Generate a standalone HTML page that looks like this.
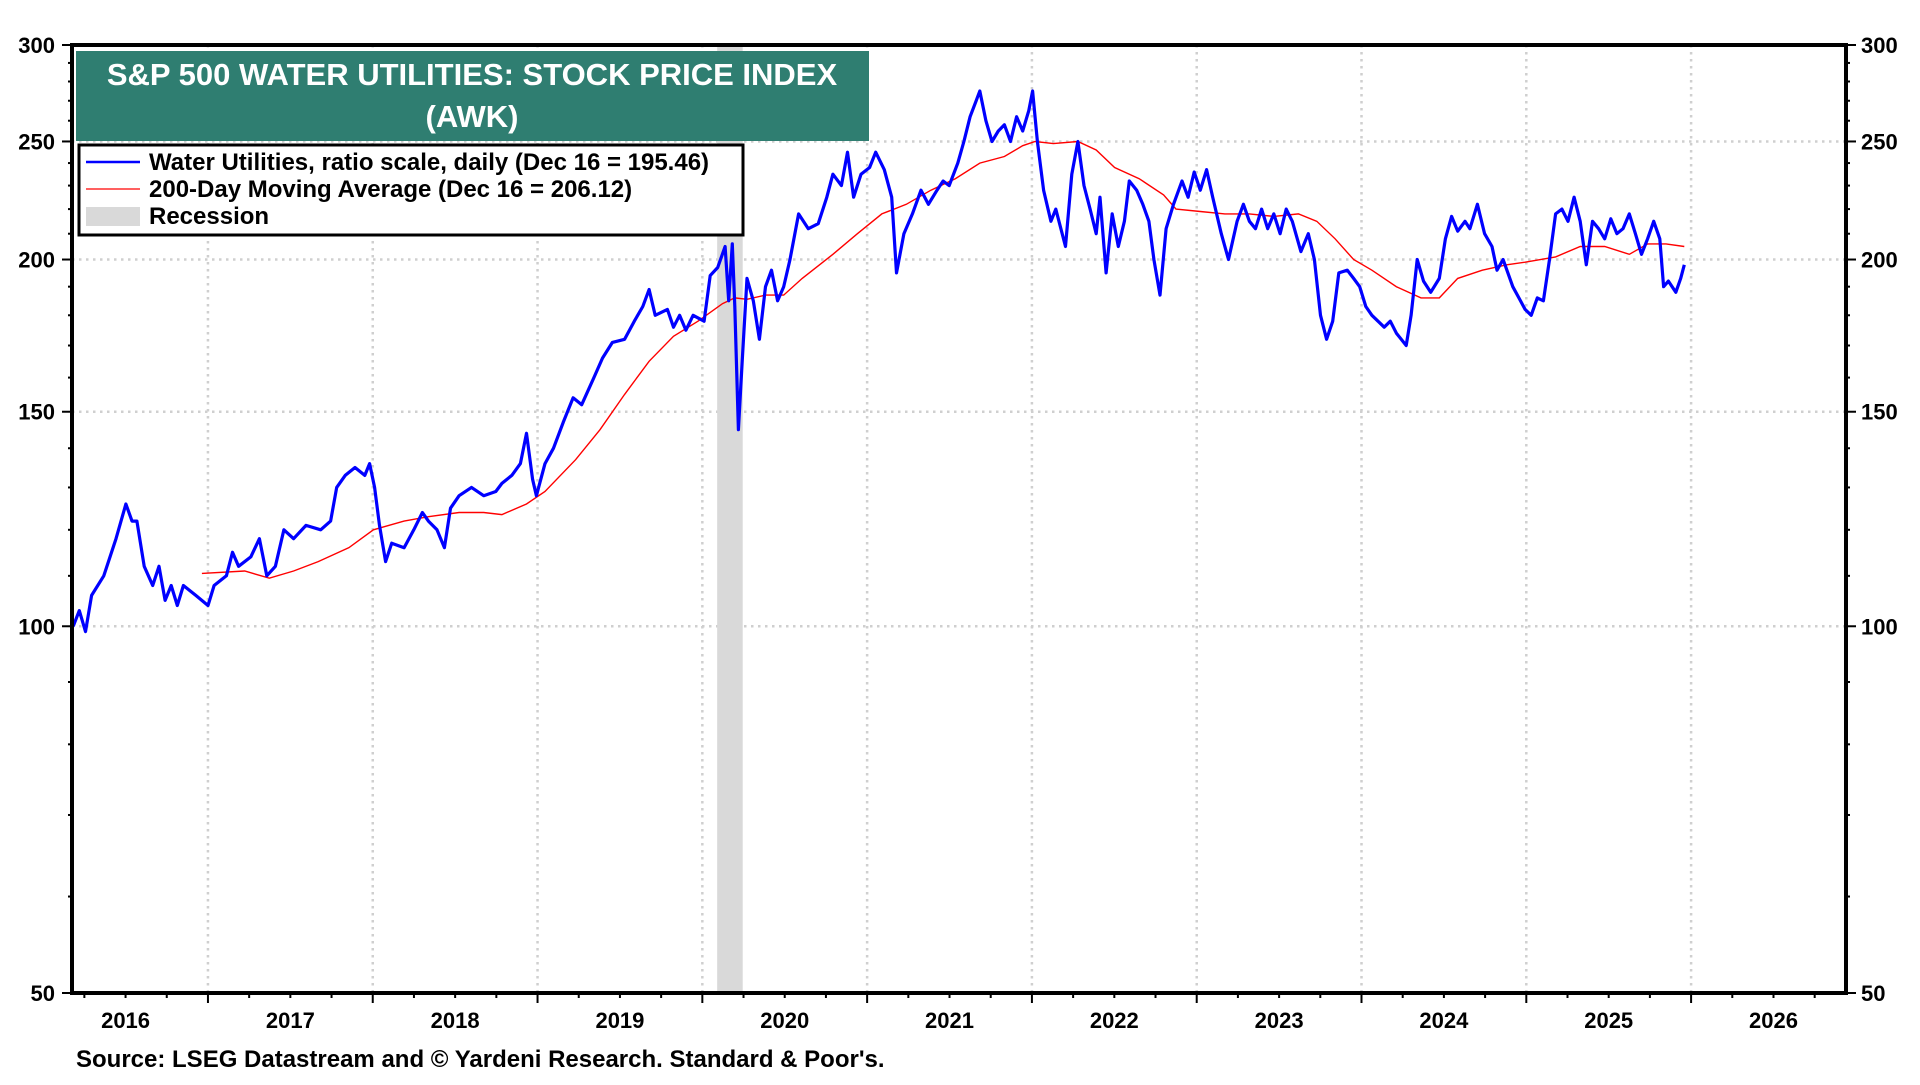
<!DOCTYPE html>
<html><head><meta charset="utf-8"><style>
body{margin:0;background:#fff;}
svg text{font-family:"Liberation Sans",Arial,sans-serif;font-weight:bold;}
</style></head><body>
<svg id="chart" width="1920" height="1080" xmlns="http://www.w3.org/2000/svg">
<g id="grid"></g>
<g id="recession"></g>
<g id="series"></g>
<g id="axes"></g>
<rect x="76" y="51" width="793" height="90" fill="#2f7e71"/>
<text x="472" y="85" font-size="31" fill="#fff" text-anchor="middle">S&amp;P 500 WATER UTILITIES: STOCK PRICE INDEX</text>
<text x="472" y="127" font-size="31" fill="#fff" text-anchor="middle">(AWK)</text>
<g>
<rect x="79" y="145" width="664" height="90" fill="#fff" stroke="#000" stroke-width="3"/>
<line x1="86" y1="162" x2="140" y2="162" stroke="#0000ff" stroke-width="2.5"/>
<text x="149" y="170" font-size="24">Water Utilities, ratio scale, daily (Dec 16 = 195.46)</text>
<line x1="86" y1="189" x2="140" y2="189" stroke="#ff0000" stroke-width="1.3"/>
<text x="149" y="197" font-size="24">200-Day Moving Average (Dec 16 = 206.12)</text>
<rect x="86" y="207" width="54" height="19" fill="#d9d9d9"/>
<text x="149" y="224" font-size="24">Recession</text>
</g>
<text x="76" y="1067" font-size="24">Source: LSEG Datastream and © Yardeni Research. Standard &amp; Poor's.</text>
</svg>
<script>
const blueT=[2016.182,2016.219,2016.257,2016.294,2016.368,2016.442,2016.502,2016.539,2016.569,2016.613,2016.665,2016.703,2016.740,2016.777,2016.814,2016.851,2016.926,2017.000,2017.037,2017.112,2017.149,2017.186,2017.260,2017.312,2017.357,2017.409,2017.461,2017.520,2017.595,2017.684,2017.744,2017.781,2017.833,2017.892,2017.952,2017.981,2018.011,2018.041,2018.078,2018.115,2018.190,2018.249,2018.301,2018.338,2018.390,2018.435,2018.472,2018.524,2018.599,2018.673,2018.747,2018.784,2018.844,2018.896,2018.933,2018.970,2018.993,2019.045,2019.097,2019.156,2019.216,2019.268,2019.342,2019.394,2019.454,2019.528,2019.587,2019.639,2019.677,2019.714,2019.788,2019.825,2019.862,2019.900,2019.944,2020.011,2020.048,2020.093,2020.138,2020.160,2020.182,2020.197,2020.219,2020.242,2020.271,2020.309,2020.346,2020.383,2020.420,2020.457,2020.494,2020.532,2020.584,2020.643,2020.703,2020.755,2020.792,2020.844,2020.881,2020.918,2020.963,2021.015,2021.052,2021.104,2021.149,2021.178,2021.223,2021.275,2021.327,2021.372,2021.424,2021.461,2021.498,2021.550,2021.587,2021.625,2021.662,2021.684,2021.721,2021.758,2021.796,2021.833,2021.870,2021.907,2021.944,2021.981,2022.004,2022.033,2022.071,2022.115,2022.145,2022.204,2022.242,2022.279,2022.316,2022.353,2022.390,2022.413,2022.450,2022.487,2022.524,2022.561,2022.591,2022.636,2022.673,2022.710,2022.740,2022.777,2022.814,2022.859,2022.911,2022.948,2022.985,2023.022,2023.060,2023.097,2023.149,2023.193,2023.245,2023.283,2023.320,2023.357,2023.394,2023.431,2023.468,2023.506,2023.543,2023.580,2023.632,2023.677,2023.714,2023.751,2023.788,2023.825,2023.862,2023.914,2023.952,2023.989,2024.026,2024.063,2024.100,2024.138,2024.175,2024.212,2024.271,2024.301,2024.338,2024.376,2024.420,2024.472,2024.509,2024.547,2024.584,2024.628,2024.658,2024.703,2024.747,2024.792,2024.822,2024.859,2024.918,2024.955,2024.993,2025.030,2025.067,2025.104,2025.141,2025.178,2025.216,2025.253,2025.290,2025.327,2025.364,2025.402,2025.439,2025.476,2025.513,2025.550,2025.587,2025.625,2025.662,2025.699,2025.736,2025.773,2025.810,2025.833,2025.862,2025.907,2025.937,2025.959];
const blueV=[100,103,99,106,110,118,126,122,122,112,108,112,105,108,104,108,106,104,108,110,115,112,114,118,110,112,120,118,121,120,122,130,133,135,133,136,130,121,113,117,116,120,124,122,120,116,125,128,130,128,129,131,133,136,144,132,128,136,140,147,154,152,160,166,171,172,178,183,189,180,182,176,180,175,180,178,194,197,205,185,206,183,145,165,193,185,172,190,196,185,190,200,218,212,214,225,235,230,245,225,235,238,245,237,225,195,210,218,228,222,228,232,230,240,250,262,270,275,260,250,255,258,250,262,255,265,275,250,228,215,220,205,235,250,230,220,210,225,195,218,205,215,232,228,222,215,200,187,212,222,232,225,236,228,237,225,210,200,215,222,215,212,220,212,218,210,220,215,203,210,200,180,172,178,195,196,193,190,183,180,178,176,178,174,170,180,200,192,188,193,208,217,211,215,212,222,210,205,196,200,190,186,182,180,186,185,200,218,220,215,225,215,198,215,212,208,216,210,212,218,210,202,208,215,208,190,192,188,193,198];
const maT=[2016.963,2017.223,2017.372,2017.520,2017.669,2017.855,2018.004,2018.190,2018.338,2018.524,2018.673,2018.784,2018.933,2019.045,2019.231,2019.379,2019.528,2019.677,2019.825,2019.974,2020.123,2020.197,2020.271,2020.383,2020.494,2020.606,2020.792,2020.941,2021.089,2021.238,2021.387,2021.535,2021.684,2021.833,2021.944,2022.019,2022.130,2022.279,2022.390,2022.502,2022.651,2022.799,2022.874,2023.022,2023.171,2023.320,2023.468,2023.617,2023.729,2023.840,2023.952,2024.063,2024.212,2024.361,2024.472,2024.584,2024.733,2024.881,2024.993,2025.178,2025.327,2025.476,2025.625,2025.736,2025.848,2025.959];
const maV=[110.5,111,109.5,111,113,116,120,122,123,124,124,123.5,126,129,137,145,155,165,173,178,184,186,185.5,187,187,193,202,210,218,222,228,233,240,243,248,250,249,250,246,238,233,226,220,219,218,218,217,218,215,208,200,196,190,186,186,193,196,198,199,201,205,205,202,206,206,205];
const yTicks=[50,100,150,200,250,300];
const yGrid=[100,150,200,250];
const years=[2016,2017,2018,2019,2020,2021,2022,2023,2024,2025,2026];
const recessions=[[2020.09,2020.245]];

const L=72,R=1846,T=45,B=993,T0=2016.175,T1=2026.94,V0=50,V1=300;
const X=t=>L+(t-T0)/(T1-T0)*(R-L);
const Y=v=>T+(Math.log(V1)-Math.log(v))/(Math.log(V1)-Math.log(V0))*(B-T);
const NS='http://www.w3.org/2000/svg';
function mk(tag,attrs,parent,txt){const e=document.createElementNS(NS,tag);for(const k in attrs)e.setAttribute(k,attrs[k]);if(txt!==undefined)e.textContent=txt;document.getElementById(parent).appendChild(e);return e;}
yGrid.forEach(v=>{const e=mk('line',{x1:L,x2:R,y1:Y(v),y2:Y(v),stroke:'#cfcfcf','stroke-width':2.5,'stroke-dasharray':'2.5 4.5'},'grid');

});
years.slice(1).forEach(y=>{const e=mk('line',{x1:X(y),x2:X(y),y1:T,y2:B,stroke:'#cfcfcf','stroke-width':2.5,'stroke-dasharray':'2.5 4.5'},'grid');

});
recessions.forEach(r=>{const e=mk('rect',{x:X(r[0]),y:T,width:X(r[1])-X(r[0]),height:B-T,fill:'#d9d9d9'},'recession');

});
const pts=(ts,vs)=>ts.map((t,i)=>X(t).toFixed(1)+','+Y(vs[i]).toFixed(1)).join(' ');
const ma=mk('polyline',{points:pts(maT,maV),fill:'none',stroke:'#ff0000','stroke-width':1.4},'series');


const bl=mk('polyline',{points:pts(blueT,blueV),fill:'none',stroke:'#0000ff','stroke-width':3.2,'stroke-linejoin':'round'},'series');


const fr=mk('rect',{x:L,y:T,width:R-L,height:B-T,fill:'none',stroke:'#000','stroke-width':4},'axes');


for(let v=50;v<=300;v+=10){const major=yTicks.includes(v);const len=major?10:4;
mk('line',{x1:L-len,x2:L,y1:Y(v),y2:Y(v),stroke:'#000','stroke-width':2},'axes');
mk('line',{x1:R,x2:R+len,y1:Y(v),y2:Y(v),stroke:'#000','stroke-width':2},'axes');}
yTicks.forEach(v=>{const a=mk('text',{x:55,y:Y(v)+8,'font-size':22,'text-anchor':'end'},'axes',String(v));


const b=mk('text',{x:1861,y:Y(v)+8,'font-size':22},'axes',String(v));

});
for(let q=Math.ceil(T0*4);q/4<=T1;q++){const t=q/4;const major=(q%4===0);
mk('line',{x1:X(t),x2:X(t),y1:B,y2:B+(major?10:5),stroke:'#000','stroke-width':2},'axes');}
years.forEach(y=>{const e=mk('text',{x:X(y+0.5),y:1028,'font-size':22,'text-anchor':'middle'},'axes',String(y));

});
</script>
</body></html>
